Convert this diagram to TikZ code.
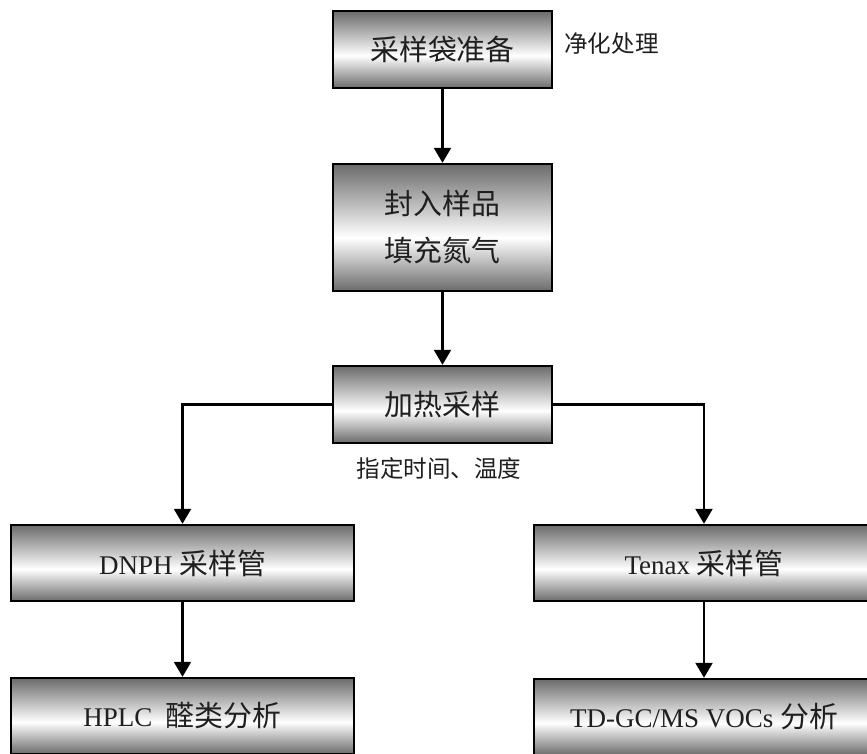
\documentclass[tikz,border=0pt]{standalone}
\usepackage{fontspec}
\setmainfont{Liberation Serif}
\newfontfamily\cjk[Scale=1.07]{Noto Sans CJK SC}
\usetikzlibrary{arrows.meta}
\definecolor{bgdark}{gray}{0.42}
\definecolor{txtdark}{gray}{0.12}
\pgfdeclareverticalshading{boxshade}{100bp}{color(0bp)=(bgdark); color(25bp)=(bgdark); color(46bp)=(white); color(75bp)=(bgdark); color(100bp)=(bgdark)}
\begin{document}
\begin{tikzpicture}[x=1pt,y=-1pt,
  box/.style={draw=black, line width=2.4pt, shading=boxshade, text=txtdark,
    minimum width=219pt, minimum height=77pt, inner sep=0pt, align=center,
    font=\fontsize{27}{47}\selectfont},
  wide/.style={box, minimum width=343pt, minimum height=76pt},
  lbl/.style={text=txtdark, inner sep=0pt, font=\fontsize{22}{26}\selectfont\cjk},
  arr/.style={line width=2.2pt, -{Triangle[length=15pt,width=17pt]}}]
\clip (0,0) rectangle (867,753);
\node[box] (b1) at (442.5,49.5) {\cjk 采样袋准备};
\node[box, minimum height=127pt] (b2) at (442.5,227.5) {\cjk 封入样品\\\cjk 填充氮气};
\node[box] (b3) at (442.5,404.5) {\cjk 加热采样};
\node[wide] (b4) at (182.5,563) {DNPH {\cjk 采样管}};
\node[wide, minimum width=340pt] (b6) at (704,563) {Tenax {\cjk 采样管}};
\node[wide] (b5) at (182.5,716) {HPLC\ \ {\cjk 醛类分析}};
\node[wide, minimum width=340pt] (b7) at (704,717) {TD-GC/MS VOCs {\cjk 分析}};
\node[lbl] (l1) at (611.5,44) {净化处理};
\node[lbl] (l2) at (439,468) {指定时间、温度};
\draw[arr] (b1) -- (b2);
\draw[arr] (b2) -- (b3);
\draw[arr] (b3.west) -| (b4.north);
\draw[arr] (b3.east) -| (b6.north);
\draw[arr] (b4) -- (b5);
\draw[arr] (b6) -- (b7);
\end{tikzpicture}
\end{document}
